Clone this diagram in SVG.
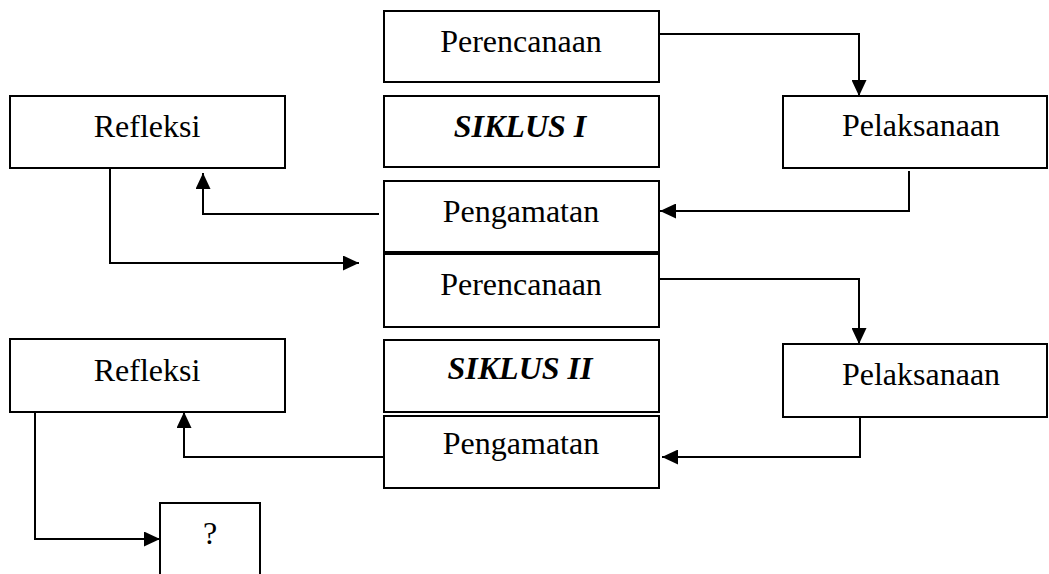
<svg xmlns="http://www.w3.org/2000/svg" width="1049" height="574" viewBox="0 0 1049 574">
<style>
.box{fill:#fff;stroke:#000;stroke-width:2}
.t{font-family:"Liberation Serif","Times New Roman",serif;font-size:32px;fill:#000;text-anchor:middle}
.b{font-weight:bold;font-style:italic}
.c{fill:none;stroke:#000;stroke-width:2;marker-end:url(#ah)}
</style>
<defs>
<marker id="ah" markerUnits="userSpaceOnUse" markerWidth="16" markerHeight="15" refX="16" refY="7.5" orient="auto" viewBox="0 0 16 15">
<path d="M0,0 L16,7.5 L0,15 z" fill="#000"/>
</marker>
</defs>
<rect width="1049" height="574" fill="#fff"/>
<g id="connectors">
<path class="c" d="M659,34 H859 V96"/>
<path class="c" d="M909,171 V211 H660"/>
<path class="c" d="M379,214 H203 V173"/>
<path class="c" d="M110,168 V263 H359"/>
<path class="c" d="M659,279 H859 V344"/>
<path class="c" d="M860,417 V457 H662"/>
<path class="c" d="M384,457 H184 V412"/>
<path class="c" d="M35,412 V539 H160"/>
</g>
<g id="perencanaan1"><rect class="box" x="384" y="11" width="275" height="71"/><text class="t" x="521" y="52">Perencanaan</text></g>
<g id="siklus1"><rect class="box" x="384" y="96" width="275" height="71"/><text class="t b" x="520" y="137">SIKLUS I</text></g>
<g id="pengamatan1"><rect class="box" x="384" y="181" width="275" height="71"/><text class="t" x="521" y="222">Pengamatan</text></g>
<g id="refleksi1"><rect class="box" x="10" y="96" width="275" height="72"/><text class="t" x="147" y="137">Refleksi</text></g>
<g id="pelaksanaan1"><rect class="box" x="783" y="96" width="264" height="72"/><text class="t" x="921" y="136">Pelaksanaan</text></g>
<g id="perencanaan2"><rect class="box" x="384" y="254" width="275" height="73"/><text class="t" x="521" y="295">Perencanaan</text></g>
<g id="siklus2"><rect class="box" x="384" y="340" width="275" height="72"/><text class="t b" x="520" y="379">SIKLUS II</text></g>
<g id="pengamatan2"><rect class="box" x="384" y="416" width="275" height="72"/><text class="t" x="521" y="454">Pengamatan</text></g>
<g id="refleksi2"><rect class="box" x="10" y="339" width="275" height="73"/><text class="t" x="147" y="381">Refleksi</text></g>
<g id="pelaksanaan2"><rect class="box" x="783" y="344" width="264" height="73"/><text class="t" x="921" y="385">Pelaksanaan</text></g>
<g id="unknown"><path d="M160,575 V503 H260 V575" fill="#fff" stroke="#000" stroke-width="2"/><text class="t" x="210" y="544">?</text></g>
</svg>
